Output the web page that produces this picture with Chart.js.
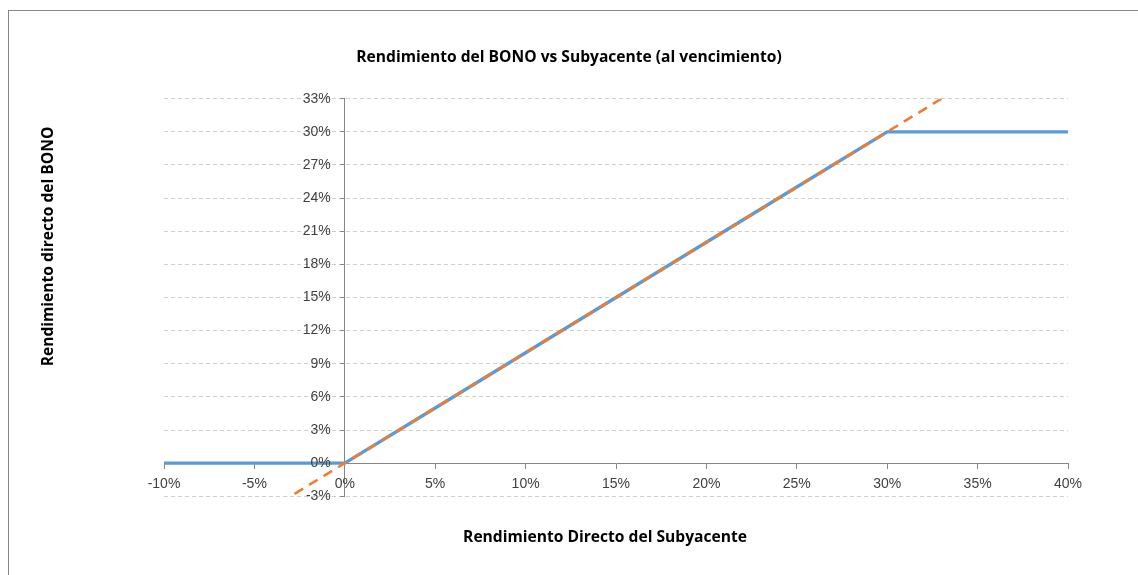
<!DOCTYPE html>
<html>
<head>
<meta charset="utf-8">
<script src="https://cdn.jsdelivr.net/npm/chart.js@4/dist/chart.umd.min.js"></script>
<style>
  html, body { margin: 0; padding: 0; background: #fff; overflow: hidden; }
  #wrap { position: relative; width: 1138px; height: 575px; }
  #frame { position: absolute; left: 8px; top: 10px; width: 1200px; height: 700px;
           border-left: 1px solid #868686; border-top: 1px solid #868686; pointer-events: none; }
  canvas { position: absolute; left: 0; top: 0; }
</style>
</head>
<body>
<div id="wrap">
  <div id="frame"></div>
  <canvas id="c" width="1138" height="575"></canvas>
</div>
<script>
// Data (percent values)
const subyacenteX = [-10, -5, 0, 5, 10, 15, 20, 25, 30, 35, 40];
const bonoY       = [0, 0, 0, 5, 10, 15, 20, 25, 30, 30, 30];
const subyacenteY = [-10, -5, 0, 5, 10, 15, 20, 25, 30, 35, 40];
const xTicks = [-10, -5, 0, 5, 10, 15, 20, 25, 30, 35, 40];
const yTicks = [-3, 0, 3, 6, 9, 12, 15, 18, 21, 24, 27, 30, 33];

const titleText = 'Rendimiento del BONO vs Subyacente (al vencimiento)';
const xTitle = 'Rendimiento Directo del Subyacente';
const yTitle = 'Rendimiento directo del BONO';

const toPts = (xs, ys) => xs.map((x, i) => ({x: x, y: ys[i]}));

const TFONT = '"Open Sans", "Liberation Sans", sans-serif';
const FONT = '"Liberation Sans", Arial, sans-serif';
const AXIS = '#868686';
const TSIZE = 15.6;

// Linear scale: labels of an axis placed at a data value keep a gap from it,
// and the axis title can be nudged.
class OffsetLinear extends Chart.LinearScale {
  _computeLabelItems(chartArea) {
    const items = super._computeLabelItems(chartArea);
    const shift = this.options.ticks.padding || 0;
    if (this.axis === 'y') {
      items.forEach(it => { it.options.translation[0] -= shift; });
    }
    return items;
  }
  drawTitle() {
    const dx = this.options.titleShiftX || 0;
    const dy = this.options.titleShiftY || 0;
    this.ctx.save();
    this.ctx.translate(dx, dy);
    super.drawTitle();
    this.ctx.restore();
  }
}
OffsetLinear.id = 'offsetLinear';
OffsetLinear.defaults = Chart.LinearScale.defaults;
Chart.register(OffsetLinear);

new Chart(document.getElementById('c'), {
  type: 'scatter',
  data: {
    datasets: [
      {
        label: 'Subyacente',
        data: toPts(subyacenteX, subyacenteY),
        showLine: true,
        borderColor: '#ED7D31',
        borderWidth: 2.6,
        borderDash: [10, 7],
        pointRadius: 0,
        order: 0
      },
      {
        label: 'BONO',
        data: toPts(subyacenteX, bonoY),
        showLine: true,
        borderColor: '#5B9BD5',
        borderWidth: 3.4,
        pointRadius: 0,
        order: 1
      }
    ]
  },
  options: {
    responsive: false,
    animation: false,
    layout: { padding: 0 },
    plugins: {
      legend: { display: false },
      tooltip: { enabled: false },
      title: {
        display: true,
        text: titleText,
        color: '#000',
        font: { family: TFONT, size: TSIZE, weight: 'bold' },
        padding: { top: 48, bottom: 32 }
      }
    },
    scales: {
      x: {
        type: 'linear',
        position: { y: 0 },
        min: -10, max: 40,
        afterBuildTicks: (s) => { s.ticks = xTicks.map(v => ({value: v})); },
        ticks: {
          color: '#404040',
          font: { family: FONT, size: 14 },
          padding: 8,
          z: 1,
          callback: (v) => v + '%'
        },
        grid: { display: true, drawOnChartArea: false, drawTicks: true, tickLength: 5, tickColor: AXIS },
        border: { display: true, color: AXIS, width: 1 }
      },
      y: {
        type: 'offsetLinear',
        position: { x: 0 },
        min: -3, max: 33,
        afterBuildTicks: (s) => { s.ticks = yTicks.map(v => ({value: v})); },
        ticks: {
          color: '#404040',
          font: { family: FONT, size: 14 },
          padding: 14,
          z: 1,
          callback: (v) => v + '%'
        },
        grid: { display: true, drawOnChartArea: true, drawTicks: true, tickLength: 4,
                color: '#cfcfcf', tickColor: AXIS },
        border: { display: true, color: AXIS, width: 1, dash: [4, 3] }
      },
      xt: {
        type: 'offsetLinear',
        position: 'bottom',
        display: true,
        titleShiftX: -11,
        grid: { display: false },
        border: { display: false },
        ticks: { display: false },
        title: {
          display: true,
          text: xTitle,
          color: '#000',
          font: { family: TFONT, size: TSIZE, weight: 'bold' },
          padding: { top: 24, bottom: 28 }
        }
      },
      yt: {
        type: 'offsetLinear',
        position: 'left',
        display: true,
        titleShiftY: -51,
        afterFit: (s) => { s.width = 164; },
        grid: { display: false },
        border: { display: false },
        ticks: { display: false },
        title: {
          display: true,
          text: yTitle,
          color: '#000',
          font: { family: TFONT, size: TSIZE, weight: 'bold' },
          padding: { top: 39, bottom: 4 }
        }
      },
      yr: {
        type: 'linear',
        position: 'right',
        display: true,
        afterFit: (s) => { s.width = 70; },
        grid: { display: false },
        border: { display: false },
        ticks: { display: false },
        title: { display: false }
      }
    }
  }
});
</script>
</body>
</html>
